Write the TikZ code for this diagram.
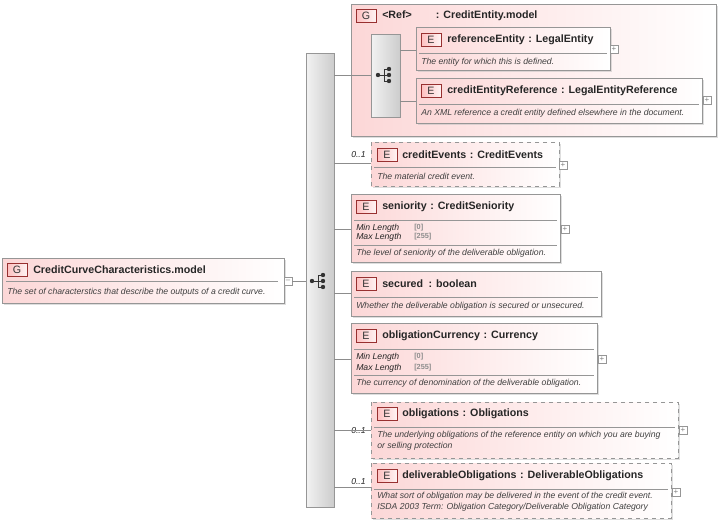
\documentclass[tikz,border=0pt]{standalone}
\usepackage{fontspec}
\setmainfont{Liberation Sans}
\usetikzlibrary{shadows}
\definecolor{pk}{RGB}{252,215,215}
\definecolor{bd}{RGB}{150,150,150}
\definecolor{bdg}{RGB}{190,60,60}
\tikzset{
  x=0.75pt,y=-0.75pt,
  box/.style={draw=bd,left color=pk,right color=white,drop shadow={shadow xshift=1.5pt,shadow yshift=-1.5pt,fill=black!25}},
  dbox/.style={box,dashed},
  badge/.style={draw=bdg!80!black,fill=pk,left color=pk!70!red!60,right color=pk!30,minimum width=15pt,minimum height=10pt,inner sep=0pt,font=\fontsize{8}{9}\selectfont,text=black!80},
  ttl/.style={anchor=west,font=\bfseries\fontsize{8}{9}\selectfont,text=black!85,inner sep=0pt},
  dsc/.style={anchor=west,font=\itshape\fontsize{6.5}{8}\selectfont,text=black!75,inner sep=0pt,align=left},
  lab/.style={anchor=west,font=\itshape\fontsize{6.5}{7}\selectfont,text=black!85,inner sep=0pt},
  val/.style={anchor=west,font=\bfseries\fontsize{5.5}{7}\selectfont,text=black!45,inner sep=0pt},
  sep/.style={draw=bd},
  con/.style={draw=black!45},
  bar/.style={draw=bd,left color=black!5,right color=black!20},
  pm/.style={draw=bd,fill=white,minimum size=6pt,inner sep=0pt,font=\fontsize{6}{6}\selectfont,text=black!50},
}
\newcommand\icon[2]{%
 \draw[black!80,line width=0.7pt] (#1-6,#2)--(#1,#2) (#1,#2-6)--(#1,#2+6) (#1,#2-6)--(#1+5,#2-6) (#1,#2)--(#1+5,#2) (#1,#2+6)--(#1+5,#2+6);
 \fill[black!80] (#1-6,#2) circle (2.2) (#1+5,#2-6) circle (2.2) (#1+5,#2) circle (2.2) (#1+5,#2+6) circle (2.2);}
\begin{document}
\begin{tikzpicture}
\useasboundingbox[fill=white] (0,0) rectangle (722,525);
% main
\path[box] (2,258) rectangle (284,303);
\node[badge] (mg) at (17,270) {G};
\node[ttl] (mt) at (33,270) {CreditCurveCharacteristics.model};
\draw[sep] (6,281)--(278,281);
\node[dsc] (md) at (7,292) {The set of characterstics that describe the outputs of a credit curve.};
\node[pm] (mm) at (288,281) {--};
% bar
\path[bar] (306,53) rectangle (334,507);
\icon{318}{281}
\draw[con] (mm.east)--(306,281);
% ref group
\path[box] (351,4) rectangle (716,136);
\node[badge] at (366,16) {G};
\node[ttl] at (382,16) {<Ref>\hspace{18pt}: CreditEntity.model};
\path[bar] (371,34) rectangle (400,117);
\icon{384}{75}
\draw[con] (334,75)--(351,75) (351,75)--(371,75);
\path[box] (416,27) rectangle (610,70);
\node[badge] at (431,40) {E};
\node[ttl] at (447,40) {referenceEntity\,\,: LegalEntity};
\draw[sep] (419,53)--(607,53);
\node[dsc] at (421,62) {The entity for which this is defined.};
\node[pm] at (614,49) {+};
\path[box] (416,78) rectangle (702,123);
\node[badge] at (431,91) {E};
\node[ttl] at (447,91) {creditEntityReference\,\,: LegalEntityReference};
\draw[sep] (419,104)--(699,104);
\node[dsc] at (421,113) {An XML reference a credit entity defined elsewhere in the document.};
\node[pm] at (707,100) {+};
\draw[con] (400,50)--(416,50) (400,101)--(416,101);
% creditEvents
\path[dbox] (371,142) rectangle (559,186);
\node[badge] at (387,155) {E};
\node[ttl] at (402,155) {creditEvents\,\,: CreditEvents};
\draw[sep] (374,167)--(556,167);
\node[dsc] at (377,176) {The material credit event.};
\node[pm] at (563,165) {+};
\node[lab] at (351,155) {0..1};
\draw[con] (334,163)--(371,163);
% seniority
\path[box] (351,194) rectangle (560,262);
\node[badge] at (366,207) {E};
\node[ttl] at (382,207) {seniority\,\,: CreditSeniority};
\draw[sep] (354,220)--(557,220);
\node[lab] at (356,228) {Min Length}; \node[val] at (414,228) {[0]};
\node[lab] at (356,237) {Max Length}; \node[val] at (414,237) {[255]};
\draw[sep] (354,245)--(557,245);
\node[dsc] at (356,253) {The level of seniority of the deliverable obligation.};
\node[pm] at (565,229) {+};
\draw[con] (334,229)--(351,229);
% secured
\path[box] (351,271) rectangle (601,316);
\node[badge] at (366,284) {E};
\node[ttl] at (382,284) {secured\,\,\,: boolean};
\draw[sep] (354,297)--(598,297);
\node[dsc] at (356,306) {Whether the deliverable obligation is secured or unsecured.};
\draw[con] (334,293)--(351,293);
% currency
\path[box] (351,323) rectangle (597,393);
\node[badge] at (366,336) {E};
\node[ttl] at (382,336) {obligationCurrency\,\,: Currency};
\draw[sep] (354,349)--(594,349);
\node[lab] at (356,357) {Min Length}; \node[val] at (414,357) {[0]};
\node[lab] at (356,368) {Max Length}; \node[val] at (414,368) {[255]};
\draw[sep] (354,375)--(594,375);
\node[dsc] at (356,383) {The currency of denomination of the deliverable obligation.};
\node[pm] at (602,359) {+};
\draw[con] (334,359)--(351,359);
% obligations
\path[dbox] (371,402) rectangle (678,458);
\node[badge] at (387,414) {E};
\node[ttl] at (402,414) {obligations\,\,: Obligations};
\draw[sep] (374,427)--(675,427);
\node[dsc] at (377,441) {The underlying obligations of the reference entity on which you are buying\\or selling protection};
\node[pm] at (683,430) {+};
\node[lab] at (351,431) {0..1};
\draw[con] (334,430)--(371,430);
% deliverable
\path[dbox] (371,463) rectangle (671,518);
\node[badge] at (387,476) {E};
\node[ttl] at (402,476) {deliverableObligations\,\,: DeliverableObligations};
\draw[sep] (374,489)--(668,489);
\node[dsc] at (377,502) {What sort of obligation may be delivered in the event of the credit event.\\ISDA 2003 Term: Obligation Category/Deliverable Obligation Category};
\node[pm] at (676,492) {+};
\node[lab] at (351,482) {0..1};
\draw[con] (334,487)--(371,487);
\end{tikzpicture}
\end{document}
